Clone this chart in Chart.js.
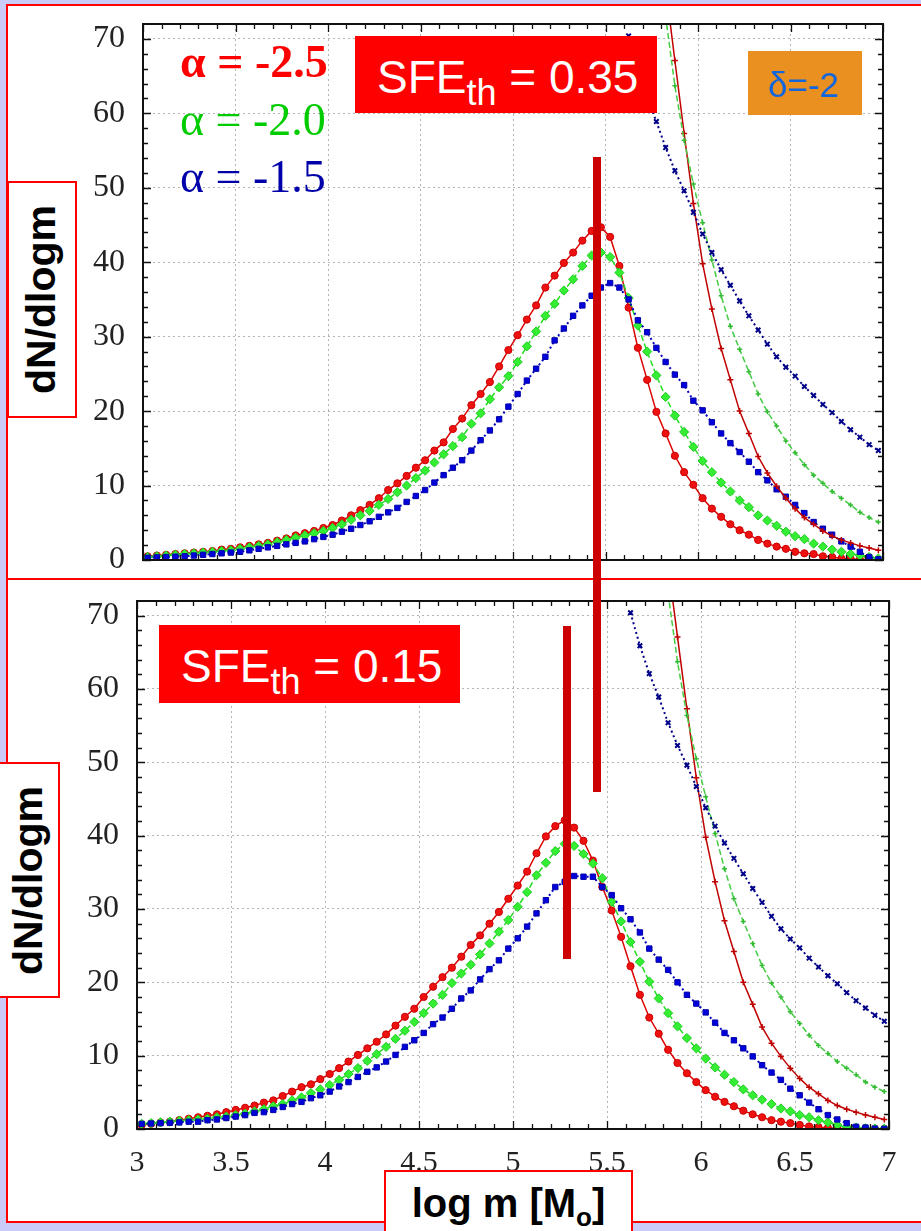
<!DOCTYPE html>
<html>
<head>
<meta charset="utf-8">
<script src="https://cdn.jsdelivr.net/npm/chart.js@4.4.1/dist/chart.umd.min.js"></script>
<style>
  body { margin: 0; width: 921px; height: 1231px; background: #cbcbf8; position: relative; overflow: hidden;
         font-family: "Liberation Sans", Arial, sans-serif; }
  .abs { position: absolute; }
  #panelTop { left: 6px; top: 4px; width: 920px; height: 576px; background: #fff; box-sizing: border-box;
              border-top: 2px solid #f00; border-left: 2px solid #f00; }
  #panelBot { left: 6px; top: 578px; width: 920px; height: 645px; background: #fff; box-sizing: border-box;
              border-top: 2px solid #f00; border-left: 2px solid #f00; border-bottom: 2px solid #f00; }
  canvas { position: absolute; left: 0; }
  .ybox { background: #fff; border: 2px solid #f00; box-sizing: border-box; display: flex;
          align-items: center; justify-content: center; }
  .ybox span { transform: rotate(-90deg); white-space: nowrap; font-weight: bold; font-size: 41px; color: #000; }
  .sfe { background: #f00; color: #fff; font-size: 46px; }
  .sfe div { position: absolute; left: 22px; top: 18px; line-height: 46px; white-space: nowrap; }
  .sfe sub { font-size: 36px; vertical-align: -12px; line-height: 0; }
  .alpha { left: 180px; font-family: "Liberation Serif", "Times New Roman", serif; font-size: 46px;
           line-height: 46px; white-space: nowrap; }
  .bar { background: #cc0000; width: 8px; }
</style>
</head>
<body>
<div id="panelTop" class="abs"></div>
<div id="panelBot" class="abs"></div>
<canvas id="chartTop" width="921" height="580" style="top:0"></canvas>
<canvas id="chartBot" width="921" height="651" style="top:580px"></canvas>

<div class="abs ybox" style="left:7px;top:181px;width:70px;height:237px"><span>dN/dlogm</span></div>
<div class="abs ybox" style="left:-3px;top:762px;width:63px;height:236px"><span>dN/dlogm</span></div>
<div class="abs" style="left:384px;top:1170px;width:249px;height:80px;background:#fff;border:2px solid #f00;box-sizing:border-box">
  <div style="position:absolute;left:0;right:0;top:11px;text-align:center;font-weight:bold;font-size:40px;line-height:40px;white-space:nowrap">log m [M<sub style="font-size:26px;vertical-align:-9px;line-height:0">o</sub>]</div>
</div>

<div class="abs alpha" style="top:39px;color:#f00;font-weight:bold">α = -2.5</div>
<div class="abs alpha" style="top:97px;color:#00cc00">α = -2.0</div>
<div class="abs alpha" style="top:154px;color:#0000aa">α = -1.5</div>

<div class="abs sfe" style="left:355px;top:36px;width:302px;height:77px"><div>SFE<sub>th</sub> = 0.35</div></div>
<div class="abs sfe" style="left:159px;top:625px;width:301px;height:78px"><div>SFE<sub>th</sub> = 0.15</div></div>
<div class="abs" style="left:748px;top:51px;width:114px;height:64px;background:#ea9020">
  <div style="position:absolute;left:20px;top:16px;font-size:35px;line-height:35px;color:#1166dd">δ=-2</div>
</div>

<div class="abs bar" style="left:593px;top:157px;height:635px"></div>
<div class="abs bar" style="left:563px;top:626px;height:333px"></div>

<script>
// log m bin centres (shared by the peaked curves)
const logM = [3.025, 3.075, 3.125, 3.175, 3.225, 3.275, 3.325, 3.375, 3.425, 3.475,
  3.525, 3.575, 3.625, 3.675, 3.725, 3.775, 3.825, 3.875, 3.925, 3.975,
  4.025, 4.075, 4.125, 4.175, 4.225, 4.275, 4.325, 4.375, 4.425, 4.475,
  4.525, 4.575, 4.625, 4.675, 4.725, 4.775, 4.825, 4.875, 4.925, 4.975,
  5.025, 5.075, 5.125, 5.175, 5.225, 5.275, 5.325, 5.375, 5.425, 5.475,
  5.525, 5.575, 5.625, 5.675, 5.725, 5.775, 5.825, 5.875, 5.925, 5.975,
  6.025, 6.075, 6.125, 6.175, 6.225, 6.275, 6.325, 6.375, 6.425, 6.475,
  6.525, 6.575, 6.625, 6.675, 6.725, 6.775, 6.825, 6.875, 6.925, 6.975];

// SFE_th = 0.35 (top panel)
const sfe35Red = [0.5, 0.6, 0.7, 0.8, 0.9, 1.0, 1.1, 1.2, 1.4, 1.5,
  1.7, 1.9, 2.1, 2.3, 2.6, 2.9, 3.3, 3.6, 3.9, 4.3,
  4.7, 5.3, 6.0, 6.7, 7.4, 8.3, 9.4, 10.3, 11.3, 12.4,
  13.4, 14.7, 15.8, 17.6, 19.0, 20.8, 22.3, 23.9, 26.0, 28.2,
  30.2, 32.3, 34.2, 36.6, 38.2, 39.9, 41.3, 42.9, 44.2, 44.7,
  43.4, 39.5, 33.9, 28.5, 24.2, 19.9, 17.0, 14.0, 11.8, 10.1,
  8.3, 6.9, 5.8, 4.8, 4.0, 3.4, 2.7, 2.2, 1.8, 1.5,
  1.1, 0.9, 0.8, 0.5, 0.4, 0.2, 0.15, 0.1, 0.05, 0.03];
const sfe35Green = [0.4, 0.5, 0.6, 0.7, 0.8, 0.9, 1.0, 1.1, 1.2, 1.3,
  1.5, 1.7, 1.9, 2.1, 2.4, 2.7, 3.0, 3.3, 3.6, 3.9,
  4.3, 4.8, 5.4, 6.0, 6.6, 7.4, 8.2, 9.1, 10.0, 11.0,
  12.0, 13.1, 14.2, 15.3, 16.5, 18.3, 19.7, 21.6, 23.2, 24.7,
  26.6, 28.7, 30.7, 32.8, 34.4, 36.2, 37.7, 39.5, 40.9, 41.3,
  40.7, 38.6, 35.2, 31.5, 28.0, 24.8, 21.9, 19.4, 17.2, 15.2,
  13.3, 11.8, 10.4, 9.2, 8.0, 7.1, 6.0, 5.3, 4.6, 3.8,
  3.2, 2.8, 2.2, 1.8, 1.4, 1.1, 0.8, 0.6, 0.4, 0.2];
const sfe35Blue = [0.3, 0.35, 0.4, 0.45, 0.5, 0.6, 0.7, 0.8, 0.9, 1.0,
  1.1, 1.3, 1.5, 1.7, 1.9, 2.1, 2.3, 2.5, 2.8, 3.1,
  3.4, 3.8, 4.2, 4.7, 5.2, 5.8, 6.4, 7.0, 7.8, 8.6,
  9.4, 10.4, 11.4, 12.4, 13.4, 14.7, 16.1, 17.4, 18.9, 20.6,
  22.3, 24.1, 25.7, 27.3, 29.5, 31.1, 32.8, 34.2, 35.5, 36.6,
  37.2, 36.6, 35.0, 32.2, 30.6, 28.5, 26.6, 24.9, 23.5, 21.4,
  20.1, 18.5, 17.0, 15.7, 14.5, 13.2, 11.8, 10.7, 9.5, 8.5,
  7.4, 6.3, 5.1, 4.2, 3.4, 2.5, 1.8, 1.1, 0.4, 0.1];

// SFE_th = 0.15 (bottom panel)
const sfe15Red = [0.55, 0.7, 0.9, 1.0, 1.2, 1.4, 1.6, 1.8, 2.0, 2.3,
  2.6, 2.9, 3.2, 3.6, 3.9, 4.5, 5.1, 5.7, 6.1, 6.8,
  7.5, 8.3, 9.2, 10.1, 11.0, 11.9, 12.9, 14.1, 15.3, 16.4,
  18.0, 19.4, 20.7, 22.0, 23.5, 25.1, 26.4, 28.0, 29.6, 31.4,
  33.2, 35.1, 37.6, 39.9, 41.3, 42.1, 41.1, 39.3, 36.6, 33.0,
  29.8, 26.2, 22.2, 18.3, 15.2, 13.0, 10.8, 9.0, 7.6, 6.4,
  5.3, 4.4, 3.7, 3.1, 2.5, 2.0, 1.6, 1.2, 1.0, 0.8,
  0.55, 0.35, 0.25, 0.15, 0.1, 0.05, 0.04, 0.03, 0.02, 0.01];
const sfe15Green = [0.7, 0.8, 0.9, 1.0, 1.1, 1.2, 1.3, 1.4, 1.6, 1.7,
  1.9, 2.1, 2.4, 2.7, 3.1, 3.4, 3.9, 4.3, 4.9, 5.4,
  6.0, 6.7, 7.5, 8.3, 9.3, 10.2, 11.2, 12.3, 13.4, 14.6,
  15.8, 17.1, 18.3, 19.9, 21.2, 22.4, 23.8, 25.3, 26.9, 28.5,
  30.3, 32.3, 34.6, 36.3, 37.9, 38.9, 38.6, 37.5, 36.2, 34.2,
  31.0, 28.3, 25.5, 22.8, 20.1, 17.8, 15.8, 14.0, 12.4, 11.0,
  9.6, 8.4, 7.4, 6.4, 5.4, 4.6, 4.0, 3.4, 2.8, 2.4,
  1.9, 1.6, 1.2, 0.9, 0.55, 0.3, 0.2, 0.1, 0.05, 0.03];
const sfe15Blue = [0.7, 0.75, 0.8, 0.85, 0.9, 1.0, 1.0, 1.2, 1.3, 1.5,
  1.7, 1.9, 2.2, 2.3, 2.6, 3.0, 3.4, 3.7, 4.2, 4.6,
  5.1, 5.8, 6.4, 7.1, 7.8, 8.4, 9.2, 10.1, 11.2, 12.1,
  13.1, 14.3, 15.2, 16.4, 17.8, 18.9, 20.4, 21.8, 23.0, 24.6,
  26.0, 27.6, 29.4, 31.2, 33.0, 33.7, 34.5, 34.4, 34.4, 33.0,
  31.9, 30.1, 28.6, 26.8, 24.6, 23.1, 21.7, 20.0, 18.3, 17.1,
  15.9, 14.5, 13.1, 12.1, 11.0, 9.9, 8.7, 7.7, 6.7, 5.5,
  4.6, 3.6, 2.7, 1.9, 1.3, 0.8, 0.3, 0.2, 0.05, 0.02];

// steep curves (same in both panels)
const steepLogM = [5.625, 5.675, 5.725, 5.775, 5.825, 5.875, 5.925, 5.975, 6.025, 6.075,
  6.125, 6.175, 6.225, 6.275, 6.325, 6.375, 6.425, 6.475, 6.525, 6.575,
  6.625, 6.675, 6.725, 6.775, 6.825, 6.875, 6.925, 6.975];
const steepRed = [null, null, null, 87, 77, 67.1, 57.3, 47.9, 39.8, 33.7,
  28.4, 24.2, 20.0, 17.0, 13.9, 11.7, 9.9, 8.3, 6.9, 5.7,
  4.8, 3.9, 3.2, 2.7, 2.3, 1.9, 1.6, 1.3];
const steepGreen = [null, null, null, 84, 73, 63.7, 56.4, 50.5, 45.3, 40.3,
  35.5, 31.4, 28.3, 25.3, 22.3, 19.9, 18.0, 16.0, 14.4, 12.8,
  11.4, 10.3, 9.2, 8.3, 7.4, 6.4, 5.7, 5.1];
const steepBlue = [70.4, 65.9, 62.1, 58.9, 55.4, 52.3, 49.6, 46.7, 43.8, 41.3,
  39.0, 36.9, 34.8, 32.8, 30.9, 29.0, 27.3, 25.9, 24.7, 23.3,
  22.1, 20.9, 19.8, 18.6, 17.5, 16.5, 15.5, 14.7];

const xRange = [3, 7];
const yRange = [0, 72];

Chart.defaults.font.family = '"Liberation Serif", "Times New Roman", serif';

function pts(xs, ys) {
  return xs.map((x, i) => ({ x: x, y: ys[i] }));
}

function makeDatasets(red, green, blue) {
  return [
    { data: pts(steepLogM, steepBlue), borderColor: '#000088', borderWidth: 2, borderDash: [2, 3],
      pointStyle: 'crossRot', pointRadius: 3.2, pointBorderColor: '#000088', pointBorderWidth: 2 },
    { data: pts(steepLogM, steepGreen), borderColor: '#44cc44', borderWidth: 1.5, borderDash: [6, 3],
      pointStyle: 'cross', pointRadius: 2.5, pointBorderColor: '#33bb33', pointBorderWidth: 1.5 },
    { data: pts(steepLogM, steepRed), borderColor: '#c00000', borderWidth: 1.5,
      pointStyle: 'cross', pointRadius: 3, pointBorderColor: '#c00000', pointBorderWidth: 1.5 },
    { data: pts(logM, blue), borderColor: '#0000bb', borderWidth: 2, borderDash: [2, 3],
      pointStyle: 'rect', pointRadius: 3.8, backgroundColor: '#0000dd', pointBorderColor: '#0000aa', pointBorderWidth: 1 },
    { data: pts(logM, green), borderColor: '#22dd22', borderWidth: 1.5, borderDash: [6, 3],
      pointStyle: 'rectRot', pointRadius: 4.6, backgroundColor: '#33ee33', pointBorderColor: '#22cc22', pointBorderWidth: 1 },
    { data: pts(logM, red), borderColor: '#dd0000', borderWidth: 1.5,
      pointStyle: 'circle', pointRadius: 3.6, backgroundColor: '#ee1111', pointBorderColor: '#cc0000', pointBorderWidth: 1 }
  ];
}

// frame with inward ticks on all four sides
const framePlugin = {
  id: 'frame',
  afterDraw(chart) {
    const { ctx, chartArea: a, scales: { x, y } } = chart;
    ctx.save();
    ctx.strokeStyle = '#111';
    ctx.lineWidth = 1.3;
    ctx.beginPath();
    for (let i = 0; i <= 40; i++) {
      const v = xRange[0] + i * 0.1;
      const len = i % 5 === 0 ? 8 : 5;
      const px = Math.round(x.getPixelForValue(v)) + 0.5;
      ctx.moveTo(px, a.bottom); ctx.lineTo(px, a.bottom - len);
      ctx.moveTo(px, a.top); ctx.lineTo(px, a.top + len);
    }
    for (let v = 0; v <= 70; v += 2) {
      const len = v % 10 === 0 ? 8 : 5;
      const py = Math.round(y.getPixelForValue(v)) + 0.5;
      ctx.moveTo(a.left, py); ctx.lineTo(a.left + len, py);
      ctx.moveTo(a.right, py); ctx.lineTo(a.right - len, py);
    }
    ctx.stroke();
    ctx.lineWidth = 2;
    ctx.strokeRect(a.left, a.top, a.right - a.left, a.bottom - a.top);
    ctx.restore();
  }
};

function makeChart(id, red, green, blue, opts) {
  return new Chart(document.getElementById(id), {
    type: 'line',
    data: { datasets: makeDatasets(red, green, blue) },
    options: {
      responsive: false,
      animation: false,
      layout: { padding: opts.padding },
      elements: { line: { tension: 0 } },
      plugins: { legend: { display: false }, tooltip: { enabled: false } },
      scales: {
        x: {
          type: 'linear', min: xRange[0], max: xRange[1],
          afterFit: (s) => { s.height = opts.xHeight; s.paddingLeft = 0; s.paddingRight = 0; },
          ticks: { stepSize: 0.5, includeBounds: false, display: opts.showX, padding: 16,
                   color: '#222', font: { size: 30 },
                   callback: (v) => String(Number(v.toFixed(1))) },
          grid: { color: '#b4b4b4', lineWidth: 1, drawTicks: false },
          border: { display: false, dash: [2, 3] }
        },
        y: {
          min: yRange[0], max: yRange[1],
          afterFit: (s) => { s.width = opts.yWidth; s.paddingTop = 0; s.paddingBottom = 0; },
          ticks: { stepSize: 10, includeBounds: false, padding: 18, color: '#222', font: { size: 32 } },
          grid: { color: '#b4b4b4', lineWidth: 1, drawTicks: false },
          border: { display: false, dash: [2, 3] }
        }
      }
    },
    plugins: [framePlugin]
  });
}

makeChart('chartTop', sfe35Red, sfe35Green, sfe35Blue,
  { padding: { left: 0, top: 24, right: 38, bottom: 0 }, xHeight: 20, yWidth: 143, showX: false });
makeChart('chartBot', sfe15Red, sfe15Green, sfe15Blue,
  { padding: { left: 0, top: 21, right: 32, bottom: 42 }, xHeight: 60, yWidth: 137, showX: true });
</script>
</body>
</html>
